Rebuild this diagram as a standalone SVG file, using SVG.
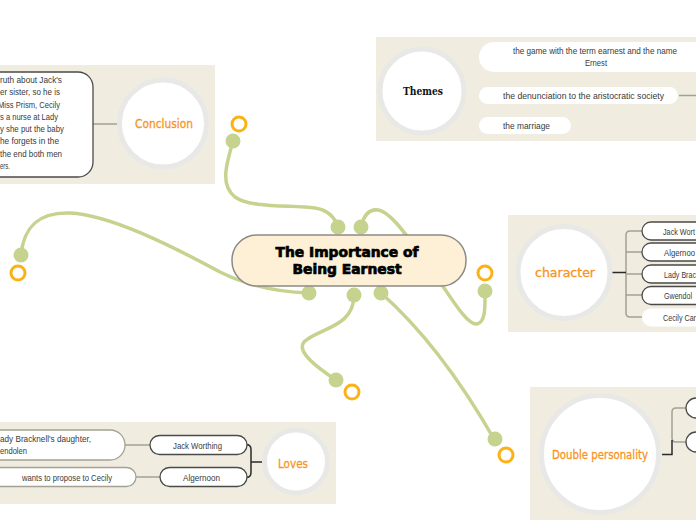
<svg xmlns="http://www.w3.org/2000/svg" width="696" height="520" viewBox="0 0 696 520">
<style>
.panel{fill:#f0ede0}
.circ{fill:#fff;stroke:#e8e8e6;stroke-width:5}
.lbl{font-family:"DejaVu Sans",sans-serif;font-size:12px;fill:#f7941d;text-anchor:middle;stroke:#f7941d;stroke-width:0.3}
.sm{font-family:"Liberation Sans",sans-serif;font-size:9px;fill:#3a3a3a}
.box{fill:#fff;stroke:#4a4a48;stroke-width:1.3}
.boxl{fill:#fff;stroke:#a3a192;stroke-width:1.3}
.boxn{fill:#fff}
.gl{fill:none;stroke:#a3a192;stroke-width:1.5}
.bl{fill:none;stroke:#2a2a2a;stroke-width:1.5}
.con{fill:none;stroke:#c5d38f;stroke-width:3.5;stroke-linecap:round}
.dot{fill:#c5d38f}
.ring{fill:#fff;stroke:#fbb216;stroke-width:3}
.title{font-family:"DejaVu Sans",sans-serif;font-size:14px;font-weight:bold;text-anchor:middle;fill:#000;stroke:#000;stroke-width:0.7}
</style>
<rect width="696" height="520" fill="#fff"/>

<g id="connectors">
<path class="con" d="M233,141 C226,165 220,185 235,197 C250,208 290,205 315,208 C328,210 335,218 338,227"/>
<path class="con" d="M361,227 C364,214 370,209 378,210 C392,212 410,240 440,282 C455,304 468,325 477,324 C486,322 485,305 485,292"/>
<path class="con" d="M21,255 C24,225 40,212 70,213 C110,215 170,245 220,272 C250,287 280,292 309,293"/>
<path class="con" d="M354,295 C354,328 318,328 304,342 C296,352 318,368 336,380"/>
<path class="con" d="M381,293 Q440,345 494,439"/>
<circle class="dot" cx="233" cy="141" r="7.5"/>
<circle class="dot" cx="338" cy="227" r="7.5"/>
<circle class="dot" cx="361" cy="227" r="7.5"/>
<circle class="dot" cx="21" cy="255" r="7.5"/>
<circle class="dot" cx="485" cy="291" r="7.5"/>
<circle class="dot" cx="309" cy="293" r="7.5"/>
<circle class="dot" cx="354" cy="295" r="7.5"/>
<circle class="dot" cx="381" cy="293" r="7.5"/>
<circle class="dot" cx="336" cy="380" r="7.5"/>
<circle class="dot" cx="495" cy="439" r="7.5"/>
<circle class="ring" cx="239" cy="124" r="7"/>
<circle class="ring" cx="18" cy="273" r="7"/>
<circle class="ring" cx="485" cy="273" r="7"/>
<circle class="ring" cx="352" cy="392" r="7"/>
<circle class="ring" cx="506" cy="455" r="7"/>
</g>

<g id="central">
<rect x="232" y="235" width="234" height="51" rx="25" fill="#fdf0d7" stroke="#8c8a84" stroke-width="1.5"/>
<text class="title" x="347" y="257" textLength="143" lengthAdjust="spacingAndGlyphs">The Importance of</text>
<text class="title" x="347" y="274" textLength="109" lengthAdjust="spacingAndGlyphs">Being Earnest</text>
</g>

<g id="conclusion">
<rect class="panel" x="0" y="65" width="215" height="119"/>
<line class="gl" x1="92" y1="124" x2="120" y2="124"/>
<rect class="box" x="-30" y="72" width="123" height="105" rx="15"/>
<text class="sm" x="0" y="83" textLength="62" lengthAdjust="spacingAndGlyphs">ruth about Jack's</text>
<text class="sm" x="0" y="95" textLength="60" lengthAdjust="spacingAndGlyphs">er sister, so he is</text>
<text class="sm" x="-2" y="107.5" textLength="62" lengthAdjust="spacingAndGlyphs">Miss Prism, Cecily</text>
<text class="sm" x="0" y="119.5" textLength="58" lengthAdjust="spacingAndGlyphs">s a nurse at Lady</text>
<text class="sm" x="0" y="132" textLength="64" lengthAdjust="spacingAndGlyphs">y she put the baby</text>
<text class="sm" x="0" y="144" textLength="59" lengthAdjust="spacingAndGlyphs">he forgets in the</text>
<text class="sm" x="0" y="156.5" textLength="62" lengthAdjust="spacingAndGlyphs">the end both men</text>
<text class="sm" x="0" y="168.5" textLength="10" lengthAdjust="spacingAndGlyphs">ers.</text>
<circle class="circ" cx="163" cy="123.5" r="43.5"/>
<text class="lbl" x="164" y="128" textLength="58" lengthAdjust="spacingAndGlyphs">Conclusion</text>
</g>

<g id="themes">
<rect class="panel" x="376" y="37" width="320" height="104"/>
<line class="gl" x1="679" y1="95.5" x2="696" y2="95.5"/>
<rect class="boxn" x="479" y="42" width="240" height="30" rx="15"/>
<rect class="boxn" x="479" y="87" width="199" height="17" rx="8.5"/>
<rect class="boxn" x="479" y="117" width="92" height="17" rx="8.5"/>
<text class="sm" x="595" y="53.5" text-anchor="middle" textLength="164" lengthAdjust="spacingAndGlyphs">the game with the term earnest and the name</text>
<text class="sm" x="596" y="65.5" text-anchor="middle" textLength="22" lengthAdjust="spacingAndGlyphs">Ernest</text>
<text class="sm" x="503" y="98.5" textLength="161" lengthAdjust="spacingAndGlyphs">the denunciation to the aristocratic society</text>
<text class="sm" x="503" y="129" textLength="47" lengthAdjust="spacingAndGlyphs">the marriage</text>
<circle class="circ" cx="422" cy="91" r="42"/>
<text x="423" y="95" font-family="DejaVu Serif,serif" font-size="11" font-weight="bold" text-anchor="middle" textLength="40" lengthAdjust="spacingAndGlyphs" fill="#111">Themes</text>
</g>

<g id="character">
<rect class="panel" x="508" y="215" width="188" height="117"/>
<path class="gl" d="M642,231 L630,231 Q626,231 626,235 L626,313 Q626,317 630,317 L642,317 M626,252 L642,252 M626,274 L642,274 M626,295 L642,295"/>
<line class="bl" x1="612" y1="272.5" x2="626" y2="272.5"/>
<rect class="box" x="642" y="222" width="80" height="18" rx="9"/>
<rect class="box" x="642" y="243" width="80" height="18" rx="9"/>
<rect class="box" x="642" y="265" width="80" height="18" rx="9"/>
<rect class="box" x="642" y="286.5" width="80" height="18" rx="9"/>
<rect class="boxn" x="642" y="308.5" width="80" height="18" rx="9"/>
<text class="sm" x="663" y="234.5" textLength="32" lengthAdjust="spacingAndGlyphs">Jack Wort</text>
<text class="sm" x="664" y="255.5" textLength="31" lengthAdjust="spacingAndGlyphs">Algernoo</text>
<text class="sm" x="664" y="277.5" textLength="32" lengthAdjust="spacingAndGlyphs">Lady Brac</text>
<text class="sm" x="664" y="299" textLength="28" lengthAdjust="spacingAndGlyphs">Gwendol</text>
<text class="sm" x="663" y="321" textLength="33" lengthAdjust="spacingAndGlyphs">Cecily Car</text>
<circle class="circ" cx="564" cy="272.5" r="46"/>
<text class="lbl" x="565" y="276.5" textLength="60" lengthAdjust="spacingAndGlyphs">character</text>
</g>

<g id="double-personality">
<rect class="panel" x="530" y="387" width="166" height="133"/>
<path class="gl" d="M686,408 L676,408 Q672,408 672,412 L672,438 Q672,442 676,442 L686,442"/>
<path class="bl" d="M662,454.5 L672,454.5 L672,440"/>
<rect class="box" x="686" y="398" width="40" height="20" rx="10"/>
<rect class="box" x="686" y="432" width="40" height="20" rx="10"/>
<circle class="circ" cx="600" cy="454" r="58.5"/>
<text class="lbl" x="600" y="459" textLength="96" lengthAdjust="spacingAndGlyphs">Double personality</text>
</g>

<g id="loves">
<rect class="panel" x="0" y="422" width="336" height="82"/>
<line class="gl" x1="125" y1="445" x2="150" y2="445"/>
<line class="gl" x1="136" y1="477" x2="160" y2="477"/>
<path class="bl" d="M246,444.5 Q251,444.5 251,449.5 L251,472.5 Q251,477.5 246,477.5 M251,462 L262,462"/>
<rect class="boxl" x="-30" y="430" width="155" height="30" rx="15"/>
<rect class="boxl" x="-30" y="467.5" width="166" height="19" rx="9.5"/>
<rect class="box" x="150" y="435.5" width="97" height="19" rx="9.5"/>
<rect class="box" x="160" y="467.5" width="87" height="19" rx="9.5"/>
<text class="sm" x="0" y="442" textLength="91" lengthAdjust="spacingAndGlyphs">ady Bracknell's daughter,</text>
<text class="sm" x="0" y="453.5" textLength="27" lengthAdjust="spacingAndGlyphs">endolen</text>
<text class="sm" x="22" y="481" textLength="90" lengthAdjust="spacingAndGlyphs">wants to propose to Cecily</text>
<text class="sm" x="173" y="448.5" textLength="49" lengthAdjust="spacingAndGlyphs">Jack Worthing</text>
<text class="sm" x="183" y="481" textLength="37" lengthAdjust="spacingAndGlyphs">Algernoon</text>
<circle class="circ" cx="296" cy="461.5" r="31.5"/>
<text class="lbl" x="293" y="468" textLength="30" lengthAdjust="spacingAndGlyphs">Loves</text>
</g>
</svg>
